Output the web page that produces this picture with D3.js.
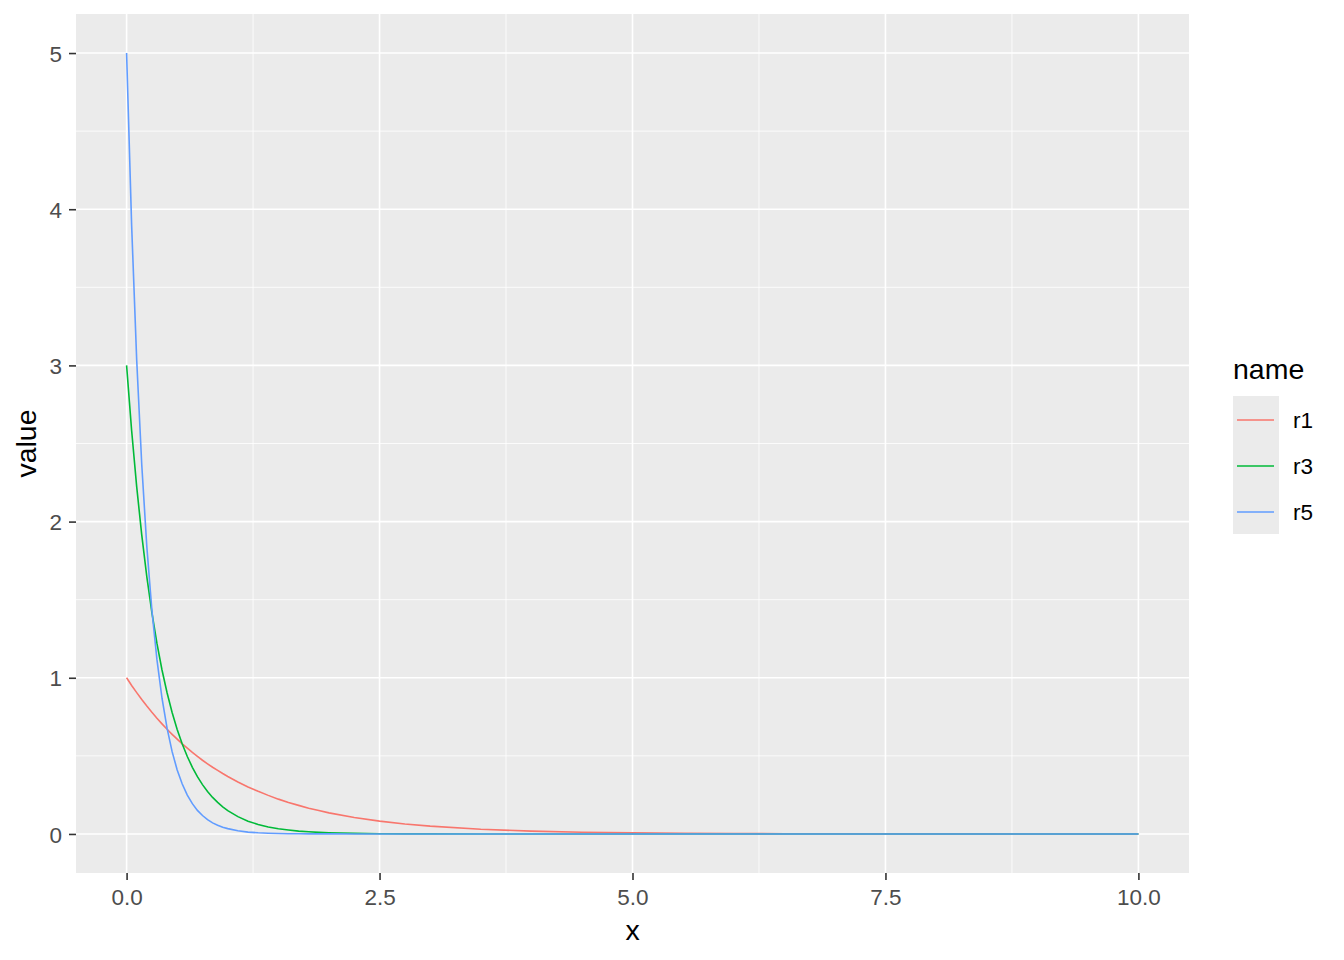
<!DOCTYPE html>
<html><head><meta charset="utf-8">
<script src="https://cdn.jsdelivr.net/npm/d3@7"></script>
<style>body{margin:0;background:#fff}svg{display:block;font-family:"Liberation Sans",Arial,sans-serif}</style>
</head><body><svg id="c" width="1344" height="960"></svg>
<script>
const xs = [0,0.05,0.1,0.15,0.2,0.25,0.3,0.35,0.4,0.45,0.5,0.55,0.6,0.65,0.7,0.75,0.8,0.85,0.9,0.95,1.0,
  1.1,1.2,1.3,1.4,1.5,1.6,1.7,1.8,1.9,2.0,2.25,2.5,2.75,3.0,
  3.5,4,4.5,5,5.5,6,6.5,7,7.5,8,8.5,9,9.5,10];
const r1 = [1,.951,.905,.861,.819,.779,.741,.705,.670,.638,.607,.577,.549,.522,.497,.472,.449,.427,.407,.387,.368,
  .333,.301,.273,.247,.223,.202,.183,.165,.150,.135,.105,.082,.064,.050,
  .030,.018,.011,.0067,.0041,.0025,.0015,.0009,.0006,.0003,.0002,.0001,.0001,.00005];
const r3 = [3,2.582,2.222,1.913,1.646,1.417,1.220,1.050,0.904,0.778,0.669,0.576,0.496,0.427,0.367,0.316,0.272,0.234,0.202,0.174,0.149,
  .111,.082,.061,.045,.033,.025,.018,.014,.010,.0074,.0035,.0017,.0008,.0004,
  .0001,.00002,0,0,0,0,0,0,0,0,0,0,0,0];
const r5 = [5,3.894,3.033,2.362,1.839,1.433,1.116,0.869,0.677,0.527,0.410,0.320,0.249,0.194,0.151,0.118,0.092,0.071,0.056,0.043,0.034,
  .020,.012,.0075,.0045,.0028,.0017,.001,.0006,.0004,.0002,.00007,.00002,.00001,0,
  0,0,0,0,0,0,0,0,0,0,0,0,0,0];
const seriesNames = ["r1","r3","r5"];
const seriesValues = [r1,r3,r5];
const colors = ["#F8766D","#00BA38","#619CFF"];
const xTicks = [0,2.5,5,7.5,10];
const xTickLabels = ["0.0","2.5","5.0","7.5","10.0"];
const yTicks = [0,1,2,3,4,5];

const svg = d3.select("#c");
const L=76,R=1189,T=14,B=873;
const x = d3.scaleLinear().domain([-0.5,10.5]).range([L,R]);
const y = d3.scaleLinear().domain([-0.25,5.25]).range([B,T]);
const FONT = "Liberation Sans, Arial, sans-serif";

svg.append("rect").attr("x",L).attr("y",T).attr("width",R-L).attr("height",B-T).attr("fill","#EBEBEB");
const g = svg.append("g");
[1.25,3.75,6.25,8.75].forEach(v=>g.append("line").attr("x1",x(v)).attr("x2",x(v)).attr("y1",T).attr("y2",B).attr("stroke","#fff").attr("stroke-width",0.8));
[0.5,1.5,2.5,3.5,4.5].forEach(v=>g.append("line").attr("y1",y(v)).attr("y2",y(v)).attr("x1",L).attr("x2",R).attr("stroke","#fff").attr("stroke-width",0.8));
xTicks.forEach(v=>g.append("line").attr("x1",x(v)).attr("x2",x(v)).attr("y1",T).attr("y2",B).attr("stroke","#fff").attr("stroke-width",1.6));
yTicks.forEach(v=>g.append("line").attr("y1",y(v)).attr("y2",y(v)).attr("x1",L).attr("x2",R).attr("stroke","#fff").attr("stroke-width",1.6));

const line = d3.line().x((d,i)=>x(xs[i])).y(d=>y(d));
seriesValues.forEach((s,k)=>{
  svg.append("path").datum(s).attr("d",line).attr("fill","none").attr("stroke",colors[k]).attr("stroke-width",1.6);
});

const xAxis = svg.append("g").attr("transform",`translate(0,${B})`)
  .call(d3.axisBottom(x).tickValues(xTicks).tickFormat((d,i)=>xTickLabels[i]).tickSize(7).tickPadding(9));
const yAxis = svg.append("g").attr("transform",`translate(${L},0)`)
  .call(d3.axisLeft(y).tickValues(yTicks).tickFormat(d3.format("d")).tickSize(7).tickPadding(7));
[xAxis,yAxis].forEach(a=>{
  a.select(".domain").remove();
  a.selectAll(".tick line").attr("stroke","#333333").attr("stroke-width",1.6);
  a.selectAll(".tick text").attr("fill","#4D4D4D").attr("font-size",22.5).attr("font-family",FONT);
});
yAxis.selectAll(".tick text").attr("dy","0.36em");
xAxis.selectAll(".tick text").attr("dy","0.72em");

svg.append("text").attr("x",(L+R)/2).attr("y",940).attr("text-anchor","middle").attr("font-size",28.5).attr("fill","#000").text("x");
svg.append("text").attr("transform",`translate(36,${(T+B)/2}) rotate(-90)`).attr("text-anchor","middle").attr("font-size",28.5).attr("fill","#000").text("value");

const lg = svg.append("g");
lg.append("text").attr("x",1233).attr("y",379).attr("font-size",28.5).attr("fill","#000").text("name");
lg.append("rect").attr("x",1233).attr("y",396).attr("width",46).attr("height",138).attr("fill","#EBEBEB");
seriesNames.forEach((n,k)=>{
  const cy = 420 + k*46;
  lg.append("line").attr("x1",1237).attr("x2",1274).attr("y1",cy).attr("y2",cy).attr("stroke",colors[k]).attr("stroke-width",1.6);
  lg.append("text").attr("x",1293).attr("y",cy+8).attr("font-size",22.5).attr("fill","#000").text(n);
});
</script></body></html>
